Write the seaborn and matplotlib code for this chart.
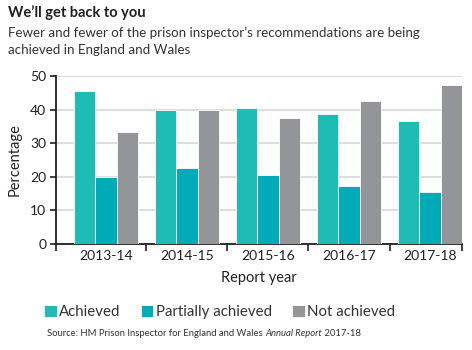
import numpy as np
import pandas as pd
import matplotlib.pyplot as plt
import seaborn as sns

years = ['2013-14', '2014-15', '2015-16', '2016-17', '2017-18']
achieved = [45.5, 40.0, 40.5, 38.7, 36.6]
partially = [19.8, 22.6, 20.5, 17.3, 15.5]
not_achieved = [33.3, 40.0, 37.5, 42.6, 47.3]
statuses = ['Achieved', 'Partially achieved', 'Not achieved']
colors = ['#1fbcb5', '#00abb8', '#939598']

df = pd.DataFrame({
    'year': years * 3,
    'status': [s for s in statuses for _ in years],
    'pct': achieved + partially + not_achieved,
})

sns.set_style('white')
plt.rcParams['font.family'] = ['Lato', 'DejaVu Sans']
txt = '#231f20'

fig = plt.figure(figsize=(4.72, 3.5), dpi=100)
ax = fig.add_axes([56/472, 1-244/350, (462-56)/472, (244-76)/350])

sns.barplot(data=df, x='year', y='pct', hue='status', hue_order=statuses,
            palette=colors, width=0.79, edgecolor='white', linewidth=0.6,
            saturation=1, ax=ax, legend=True, zorder=3)

ax.set_ylim(0, 50)
ax.set_xlim(-0.617, 4.395)
ax.set_yticks([0, 10, 20, 30, 40, 50])
ax.yaxis.grid(True, color='#dedede', linewidth=1.5, zorder=0)
ax.set_axisbelow(True)

# category separators as major ticks, labels on minor ticks
ax.set_xticks([-0.617, 0.5, 1.5, 2.5, 3.5, 4.395])
ax.set_xticklabels([])
ax.set_xticks(range(len(years)), minor=True)
ax.set_xticklabels(years, minor=True, fontsize=10, color=txt)
ax.tick_params(axis='x', which='major', length=5, width=1.2, color='#231f20', direction='out')
ax.tick_params(axis='x', which='minor', length=0, pad=4)
ax.tick_params(axis='y', length=4, width=1.2, color='#231f20', labelsize=10, labelcolor=txt, pad=3)
ax.tick_params(bottom=True, left=True)

for s in ['top', 'right']:
    ax.spines[s].set_visible(False)
for s in ['left', 'bottom']:
    ax.spines[s].set_color('#231f20')
    ax.spines[s].set_linewidth(1.3)

ax.set_xlabel('Report year', fontsize=10.5, color=txt, labelpad=7)
ax.set_ylabel('Percentage', fontsize=10.5, color=txt, labelpad=6)

handles, labels = ax.get_legend_handles_labels()
ax.get_legend().remove()
fig.legend(handles, labels, loc='center left', bbox_to_anchor=(44/472, 1-312/350),
           ncol=3, frameon=False, fontsize=10.8, handlelength=0.85, handleheight=0.85,
           handletextpad=0.15, columnspacing=1.35, labelcolor='#333333',
           borderaxespad=0, borderpad=0)

fig.text(8/472, 1-13/350, "We\u2019ll get back to you", fontsize=10.5, fontweight='bold',
         color=txt, va='center', ha='left')
fig.text(8/472, 1-33/350, "Fewer and fewer of the prison inspector\u2019s recommendations are being",
         fontsize=9.6, color='#333333', va='center', ha='left')
fig.text(8/472, 1-50/350, "achieved in England and Wales",
         fontsize=9.6, color='#333333', va='center', ha='left')

# source line with italic title
fig.canvas.draw()
r = fig.canvas.get_renderer()
x0 = 47/472
y0 = 1-333/350
parts = [('Source: HM Prison Inspector for England and Wales ', 'normal'),
         ('Annual Report', 'italic'),
         (' 2017-18', 'normal')]
for s, st in parts:
    t = fig.text(x0, y0, s, fontsize=6.8, style=st, color='#333333', va='center', ha='left')
    bb = t.get_window_extent(renderer=r)
    x0 += bb.width / fig.bbox.width

fig.savefig('out.png', dpi=100)
